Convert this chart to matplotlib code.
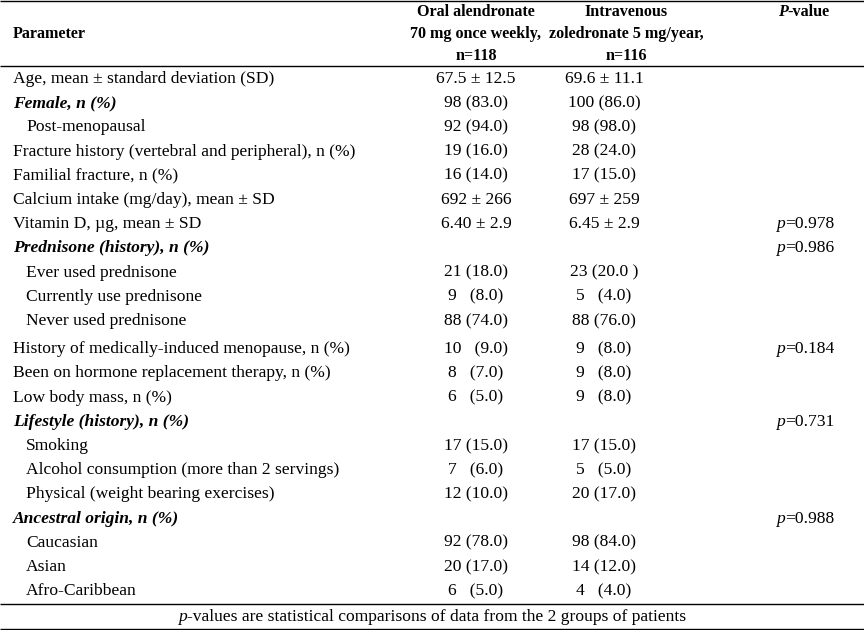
import matplotlib
matplotlib.use("Agg")
import matplotlib.pyplot as plt

# table content
params = [
    "Age, mean ± standard deviation (SD)",
    "Female, n (%)",
    "Post-menopausal",
    "Fracture history (vertebral and peripheral), n (%)",
    "Familial fracture, n (%)",
    "Calcium intake (mg/day), mean ± SD",
    "Vitamin D, µg, mean ± SD",
    "Prednisone (history), n (%)",
    "Ever used prednisone",
    "Currently use prednisone",
    "Never used prednisone",
    "History of medically-induced menopause, n (%)",
    "Been on hormone replacement therapy, n (%)",
    "Low body mass, n (%)",
    "Lifestyle (history), n (%)",
    "Smoking",
    "Alcohol consumption (more than 2 servings)",
    "Physical (weight bearing exercises)",
    "Ancestral origin, n (%)",
    "Caucasian",
    "Asian",
    "Afro-Caribbean",
]
oral = ["67.5 ± 12.5", "98 (83.0)", "92 (94.0)", "19 (16.0)", "16 (14.0)",
        "692 ± 266", "6.40 ± 2.9", "", "21 (18.0)", "9   (8.0)", "88 (74.0)",
        "10   (9.0)", "8   (7.0)", "6   (5.0)", "", "17 (15.0)", "7   (6.0)",
        "12 (10.0)", "", "92 (78.0)", "20 (17.0)", "6   (5.0)"]
iv = ["69.6 ± 11.1", "100 (86.0)", "98 (98.0)", "28 (24.0)", "17 (15.0)",
      "697 ± 259", "6.45 ± 2.9", "", "23 (20.0 )", "5   (4.0)", "88 (76.0)",
      "9   (8.0)", "9   (8.0)", "9   (8.0)", "", "17 (15.0)", "5   (5.0)",
      "20 (17.0)", "", "98 (84.0)", "14 (12.0)", "4   (4.0)"]
pvals = ["", "", "", "", "", "", "0.978", "0.986", "", "", "",
         "0.184", "", "", "0.731", "", "", "", "0.988", "", "", ""]
groups = ["Female, n (%)", "Prednisone (history), n (%)",
          "Lifestyle (history), n (%)", "Ancestral origin, n (%)"]
subrows = ["Post-menopausal", "Ever used prednisone", "Currently use prednisone",
           "Never used prednisone", "Smoking",
           "Alcohol consumption (more than 2 servings)",
           "Physical (weight bearing exercises)", "Caucasian", "Asian",
           "Afro-Caribbean"]
head_oral = ["Oral alendronate", "70 mg once weekly,", "n=118"]
head_iv = ["Intravenous", "zoledronate 5 mg/year,", "n=116"]
footnote = "values are statistical comparisons of data from the 2 groups of patients"

FONT = "Liberation Serif"
FS = 12.6
HFS = 11.6

fig = plt.figure(figsize=(8.64, 6.3), dpi=100)
ax = fig.add_axes([0, 0, 1, 1])
ax.set_xlim(0, 864)
ax.set_ylim(630, 0)
ax.axis("off")
renderer = fig.canvas.get_renderer()


def runs(x, y, parts, ha="left", size=FS):
    # draw text pieces with different styles next to each other
    texts = []
    for s, style, weight in parts:
        t = ax.text(0, y, s, family=FONT, size=size, style=style,
                    weight=weight, va="center", ha="left")
        texts.append(t)
    widths = [t.get_window_extent(renderer).width for t in texts]
    total = sum(widths)
    x0 = x - total / 2 if ha == "center" else x
    for t, w in zip(texts, widths):
        t.set_x(x0)
        x0 += w


# rules
for yl in [1, 66, 604, 629]:
    ax.plot([0, 864], [yl, yl], color="black", lw=1.0, solid_capstyle="butt")

# header
ax.text(13, 34, "Parameter", family=FONT, size=HFS, weight="bold", va="center")
for i, (a, b) in enumerate(zip(head_oral, head_iv)):
    y = 12 + i * 22
    ax.text(476, y, a, family=FONT, size=HFS, weight="bold", va="center", ha="center")
    ax.text(626, y, b, family=FONT, size=HFS, weight="bold", va="center", ha="center")
runs(804, 12, [("P", "italic", "bold"), ("-value", "normal", "bold")],
     ha="center", size=HFS)

# body rows
row_y = []
y = 79
for i, p in enumerate(params):
    if p == "History of medically-induced menopause, n (%)":
        y += 4
    row_y.append(y)
    y += 24.2

for p, o, v, pv, y in zip(params, oral, iv, pvals, row_y):
    if p in groups:
        ax.text(13, y, p, family=FONT, size=FS, style="italic", weight="bold",
                va="center")
    else:
        ax.text(26 if p in subrows else 13, y, p, family=FONT, size=FS,
                va="center")
    ax.text(476, y, o, family=FONT, size=FS, va="center", ha="center")
    ax.text(604, y, v, family=FONT, size=FS, va="center", ha="center")
    if pv:
        runs(805, y, [("p", "italic", "normal"), ("=" + pv, "normal", "normal")],
             ha="center")

runs(432, 617, [("p", "italic", "normal"), ("-" + footnote, "normal", "normal")],
     ha="center")

fig.savefig("out.png", dpi=100)
